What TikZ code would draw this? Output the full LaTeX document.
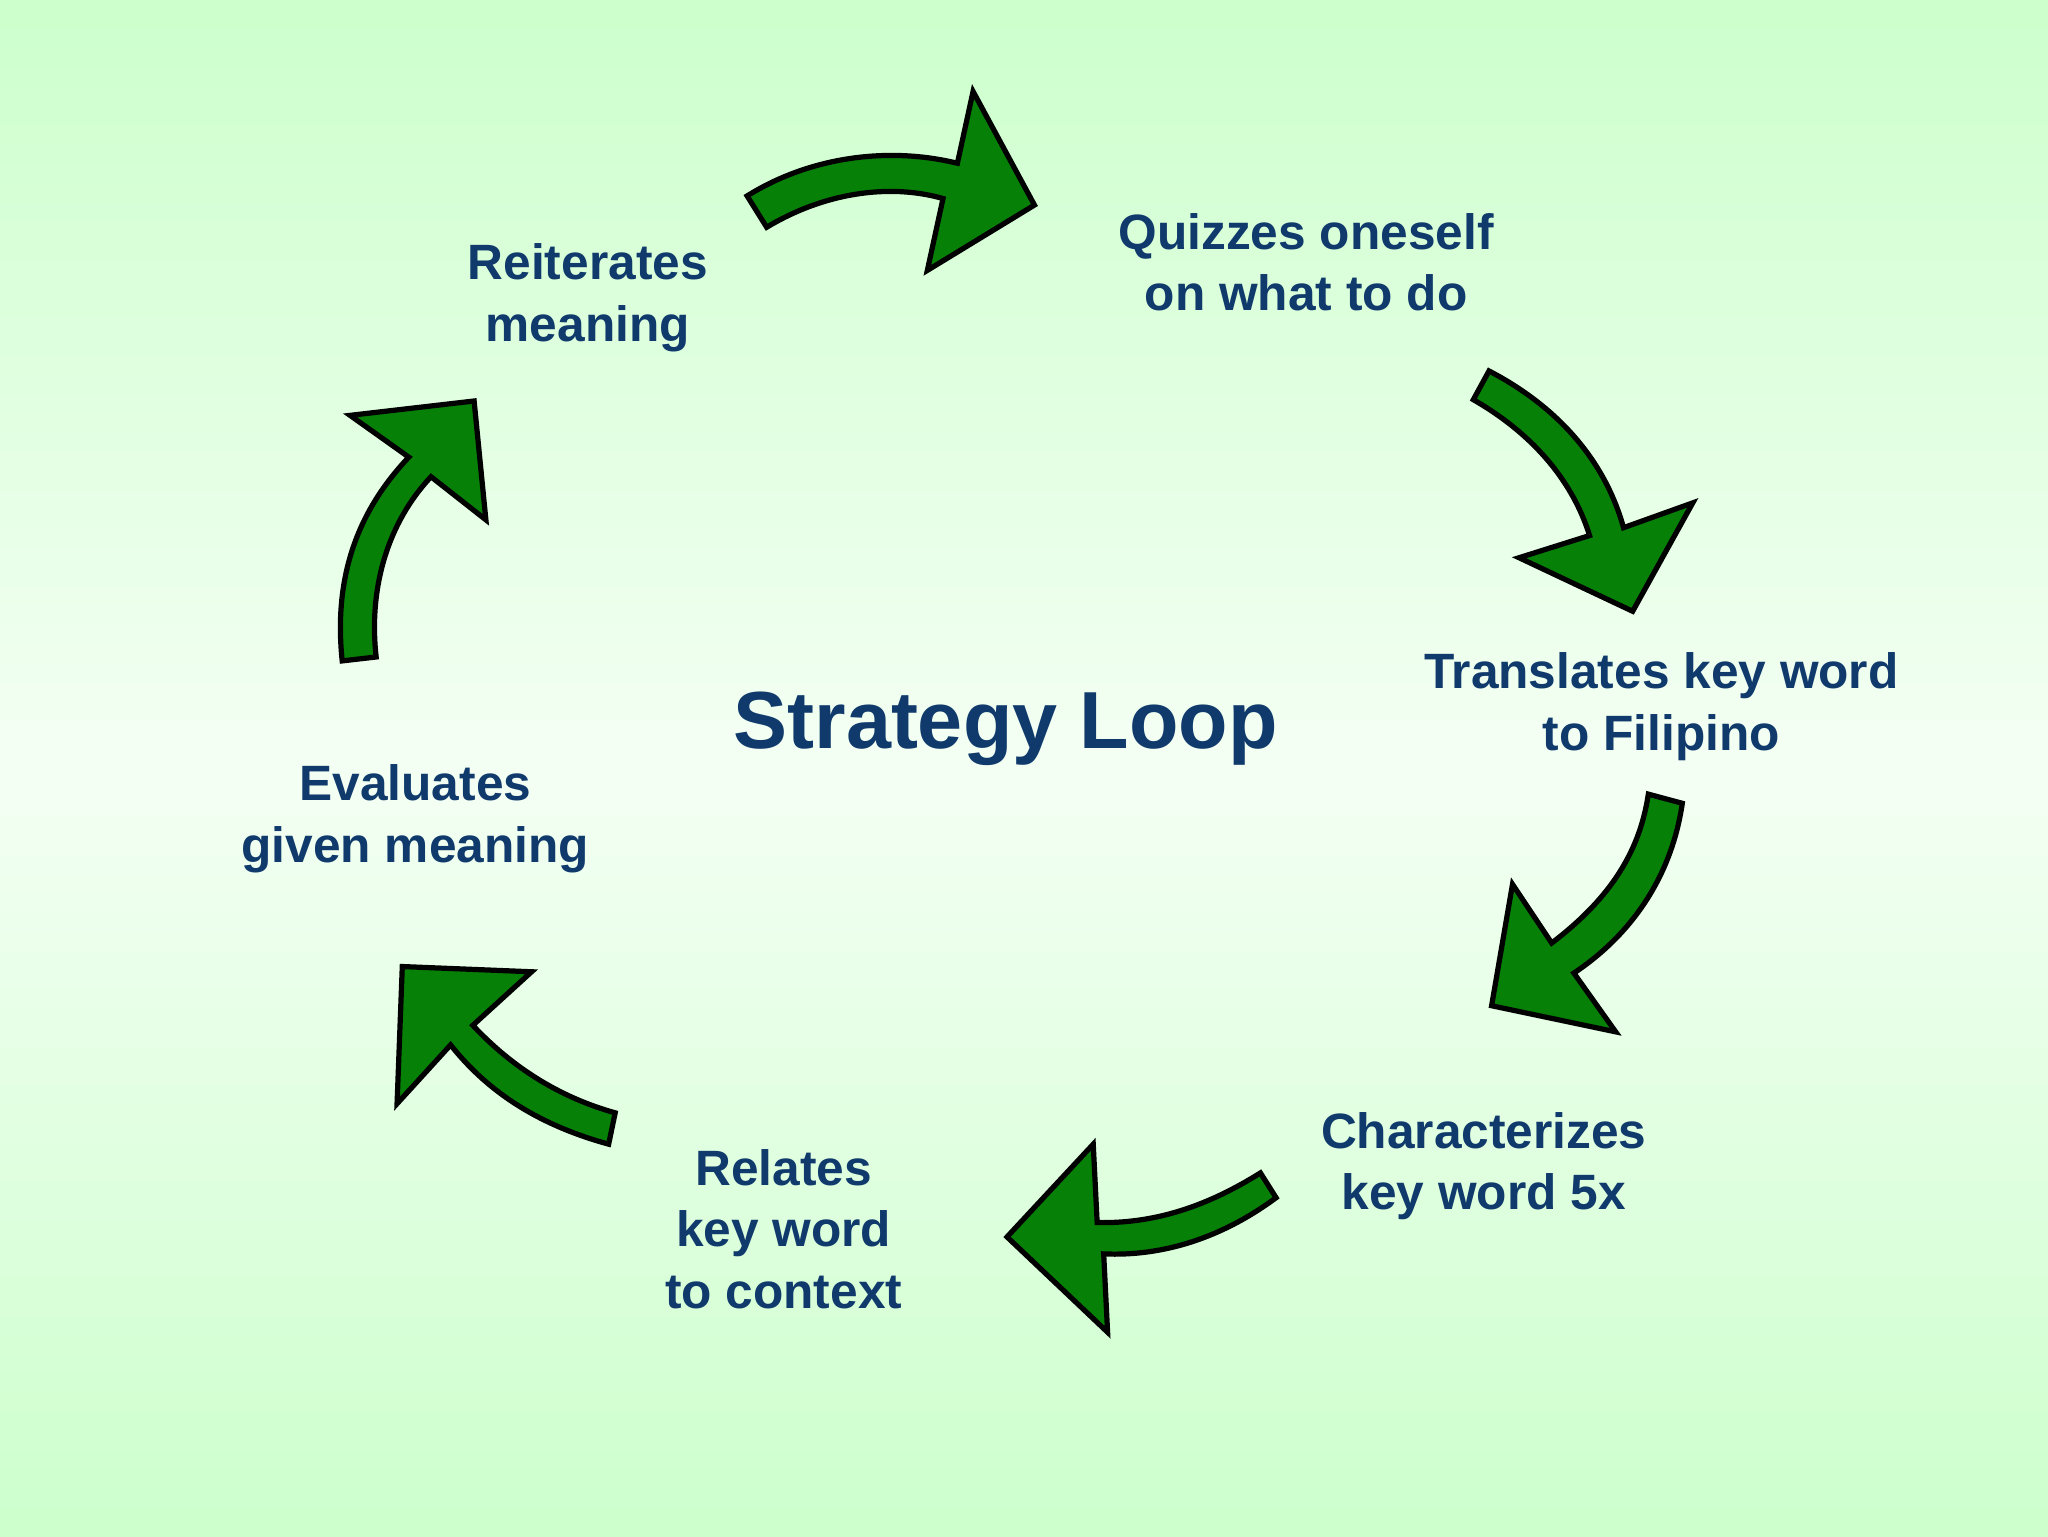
\documentclass[tikz,border=0pt]{standalone}
\usepackage{fontspec}
\setmainfont{Liberation Sans}
\definecolor{txt}{HTML}{0F3A6B}
\definecolor{arr}{HTML}{078007}
\definecolor{bgg}{HTML}{CCFFCC}
\definecolor{bgw}{HTML}{F4FFF4}
\begin{document}
\begin{tikzpicture}[x=1pt,y=-1pt,
  lbl/.style={text=txt,font=\bfseries\fontsize{38}{47}\selectfont,align=center},
  bigarrow/.style={fill=arr,draw=black,line width=4pt,line join=miter}]
\shade[top color=bgg,bottom color=bgw] (0,0) rectangle (1568,588);
\shade[top color=bgw,bottom color=bgg] (0,588) rectangle (1568,1176);
\useasboundingbox (0,0) rectangle (1568,1176);
\node[lbl] (reit) at (450,228) {Reiterates\\ meaning};
\node[lbl] (quiz) at (1000,201) {Quizzes oneself\\ on what to do};
\node[lbl] (trans) at (1272,541) {Translates key word\\ to Filipino};
\node[lbl] (char) at (1136,893) {Characterizes\\ key word 5x};
\node[lbl] (rel) at (600,941) {Relates\\ key word\\ to context};
\node[lbl] (eval) at (318,627) {Evaluates\\ given meaning};
\node[text=txt,font=\bfseries\fontsize{62}{70}\selectfont] (title) at (770,558) {Strategy Loop};
\draw[bigarrow] (587,174) .. controls (630,148) and (680,140) .. (722,152) -- (710,207) -- (792,157) -- (745,70) -- (733,125) .. controls (680,112) and (620,120) .. (572,150) -- cycle;
\draw[bigarrow] (1140,284) .. controls (1190,310) and (1228,350) .. (1243,404) -- (1296,385) -- (1250,468) -- (1163,427) -- (1217,410) .. controls (1203,365) and (1170,330) .. (1128,306) -- cycle;
\draw[bigarrow] (1288,615) .. controls (1280,670) and (1250,715) .. (1205,745) -- (1237,790) -- (1142,770) -- (1158,677) -- (1188,722) .. controls (1230,690) and (1255,655) .. (1262,608) -- cycle;
\draw[bigarrow] (977,917) .. controls (935,948) and (890,962) .. (845,960) -- (848,1020) -- (771,947) -- (837,876) -- (840,936) .. controls (885,937) and (925,923) .. (965,898) -- cycle;
\draw[bigarrow] (466,876) .. controls (415,862) and (375,838) .. (345,800) -- (304,845) -- (308,740) -- (407,744) -- (362,785) .. controls (392,817) and (428,840) .. (471,852) -- cycle;
\draw[bigarrow] (262,506) .. controls (255,440) and (275,390) .. (313,350) -- (268,318) -- (363,307) -- (372,398) -- (330,365) .. controls (297,400) and (282,450) .. (288,503) -- cycle;
\end{tikzpicture}
\end{document}
